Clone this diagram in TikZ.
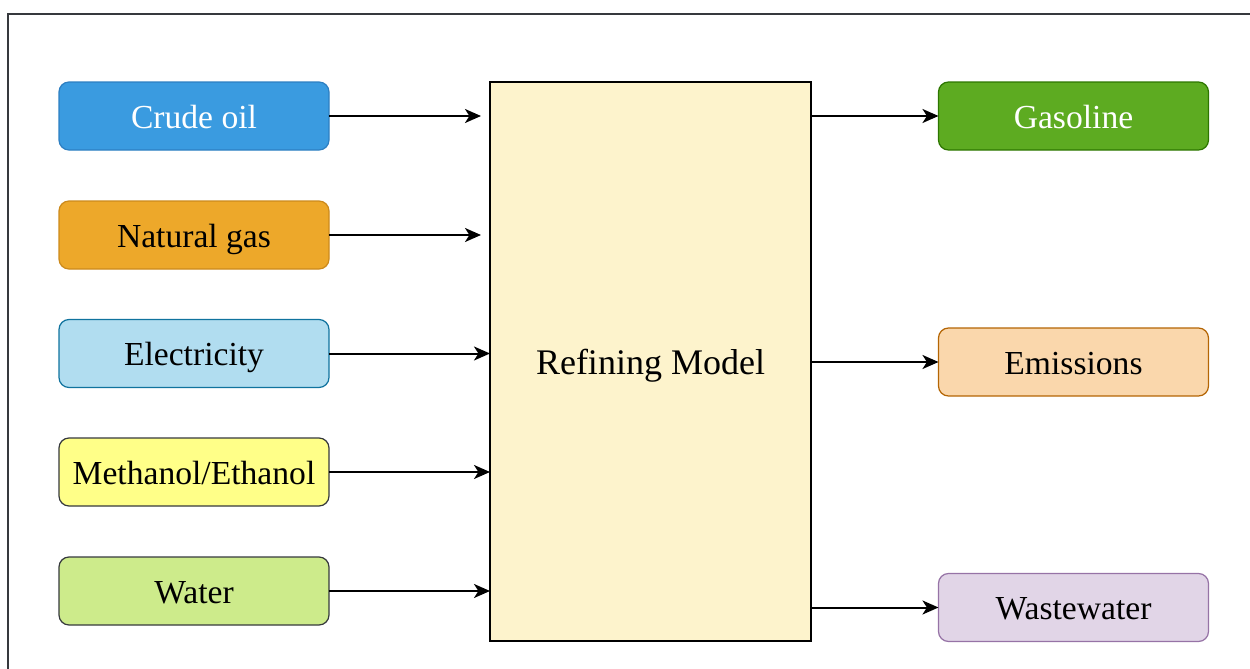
\documentclass[tikz,border=0pt]{standalone}
\usepackage{fontspec}
\setmainfont{Liberation Serif}
\usetikzlibrary{arrows.meta}
\definecolor{crudefill}{HTML}{3A9BE0}
\definecolor{crudedraw}{HTML}{2D7FC2}
\definecolor{gasfill}{HTML}{EDA82A}
\definecolor{gasdraw}{HTML}{CC8A1C}
\definecolor{elecfill}{HTML}{B1DDF0}
\definecolor{elecdraw}{HTML}{10739E}
\definecolor{methfill}{HTML}{FFFF88}
\definecolor{darkgrey}{HTML}{36393D}
\definecolor{waterfill}{HTML}{CDEB8B}
\definecolor{gasolfill}{HTML}{5DAB21}
\definecolor{gasoldraw}{HTML}{2D7600}
\definecolor{emisfill}{HTML}{FAD7AC}
\definecolor{emisdraw}{HTML}{B46504}
\definecolor{wastefill}{HTML}{E1D5E7}
\definecolor{wastedraw}{HTML}{9673A6}
\definecolor{modelfill}{HTML}{FDF3CC}
\tikzset{
  box/.style={rounded corners=5pt, line width=0.6pt, minimum width=135pt, minimum height=34pt, inner sep=0pt, outer sep=0pt, text height=15pt, text depth=3pt, font=\fontsize{16.8}{20}\selectfont},
  flow/.style={line width=1pt, -{Stealth[length=8pt,width=7pt,inset=2.2pt]}},
}
\begin{document}
\begin{tikzpicture}[x=0.5pt,y=-0.5pt]
\useasboundingbox (0,0) rectangle (1250,669);
\coordinate (fbl) at (8,669);
\coordinate (ftl) at (8,14);
\coordinate (ftr) at (1250,14);
\draw[line width=1pt, color=darkgrey] (fbl) -- (ftl) -- (ftr);

\node[box, fill=crudefill, draw=crudedraw, text=white] (crude) at (194,116) {Crude oil};
\node[box, fill=gasfill, draw=gasdraw] (gas) at (194,235) {Natural gas};
\node[box, fill=elecfill, draw=elecdraw] (elec) at (194,353.5) {Electricity};
\node[box, fill=methfill, draw=darkgrey] (meth) at (194,472) {Methanol/Ethanol};
\node[box, fill=waterfill, draw=darkgrey] (water) at (194,591) {Water};

\node[draw=black, fill=modelfill, line width=0.6pt, minimum width=160.5pt, minimum height=279.5pt, inner sep=0pt, outer sep=0pt, text height=16pt, text depth=3pt, font=\fontsize{18}{22}\selectfont] (model) at (650.5,361.5) {Refining Model};

\node[box, fill=gasolfill, draw=gasoldraw, text=white] (gasol) at (1073.5,116) {Gasoline};
\node[box, fill=emisfill, draw=emisdraw] (emis) at (1073.5,362) {Emissions};
\node[box, fill=wastefill, draw=wastedraw] (waste) at (1073.5,607.5) {Wastewater};

\coordinate (in1) at ([xshift=-4.5pt]model.west |- crude.east);
\coordinate (in2) at ([xshift=-4.5pt]model.west |- gas.east);
\draw[flow] (crude.east) -- (in1);
\draw[flow] (gas.east) -- (in2);
\draw[flow] (elec.east) -- (model.west |- elec.east);
\draw[flow] (meth.east) -- (model.west |- meth.east);
\draw[flow] (water.east) -- (model.west |- water.east);

\draw[flow] (model.east |- gasol.west) -- (gasol.west);
\draw[flow] (model.east |- emis.west) -- (emis.west);
\draw[flow] (model.east |- waste.west) -- (waste.west);
\end{tikzpicture}
\end{document}
